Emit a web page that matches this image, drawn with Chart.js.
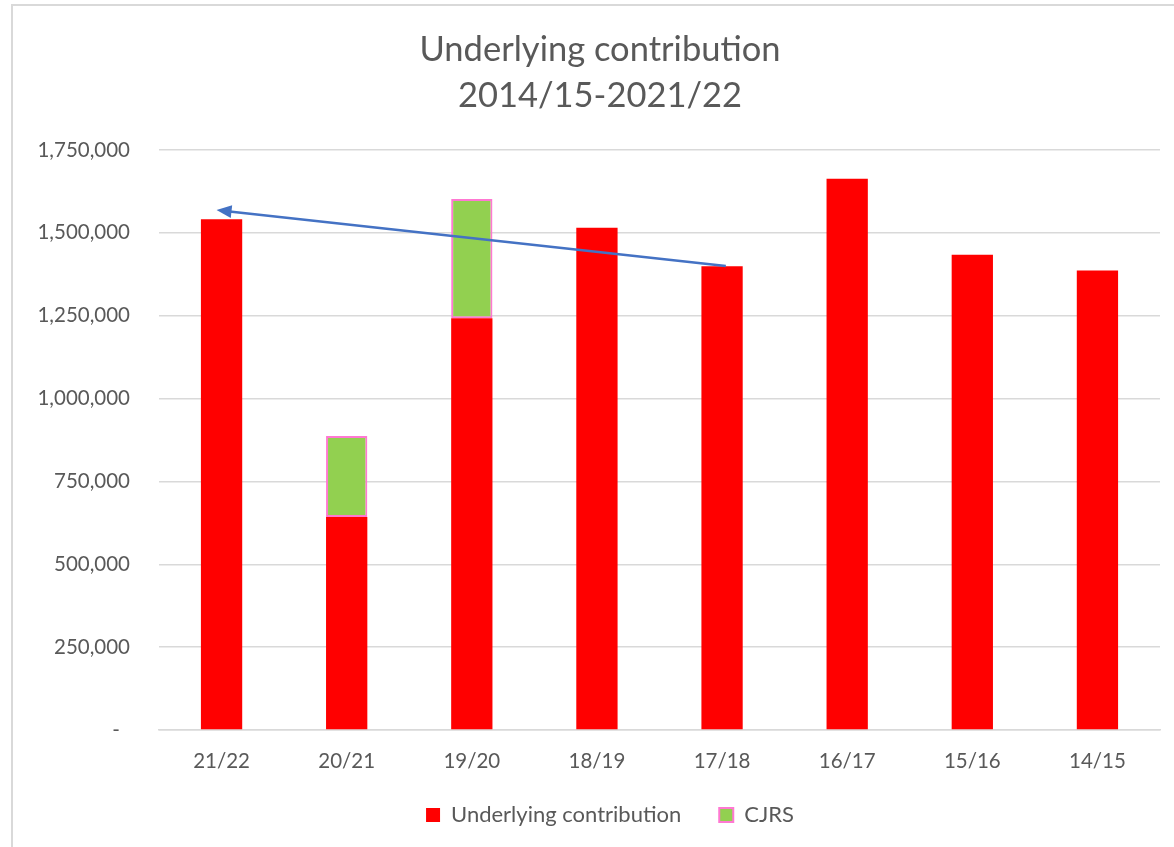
<!DOCTYPE html>
<html>
<head>
<meta charset="utf-8">
<script src="https://cdn.jsdelivr.net/npm/chart.js@4"></script>
<style>
  html, body { margin: 0; padding: 0; background: #fff; }
  #wrap { width: 1174px; height: 847px; position: relative; }
</style>
</head>
<body>
<div id="wrap"><canvas id="chart"></canvas></div>
<script>
// data
const categories = ['21/22', '20/21', '19/20', '18/19', '17/18', '16/17', '15/16', '14/15'];
const underlying = [1541000, 643000, 1242000, 1515000, 1399000, 1663000, 1434000, 1386000];
const cjrs = [null, 244000, 360000, null, null, null, null, null];
const yTicks = [0, 250000, 500000, 750000, 1000000, 1250000, 1500000, 1750000];
// trend arrow: [category index, value] from tail to tip
const arrowFrom = [4.03, 1400000];
const arrowTo = [-0.04, 1569000];

const textColor = '#595959';
const gridColor = '#d9d9d9';
const fontFamily = 'Lato, "Open Sans", sans-serif';

// light frame around the chart, like the spreadsheet export
const framePlugin = {
    id: 'frame',
    beforeDraw(chart) {
        const ctx = chart.ctx;
        ctx.save();
        ctx.strokeStyle = '#d9d9d9';
        ctx.lineWidth = 2;
        ctx.strokeRect(12, 5, chart.width + 20, chart.height + 20);
        ctx.restore();
    }
};

// title and legend sit a bit right of the canvas centre in the original
const nudgePlugin = {
    id: 'nudge',
    afterLayout(chart) {
        if (chart.titleBlock) {
            chart.titleBlock.left += 20;
            chart.titleBlock.right += 20;
        }
        if (chart.legend) {
            chart.legend.left += 30;
            chart.legend.right += 30;
            chart.legend.top -= 10;
            chart.legend.bottom -= 10;
        }
    }
};

// blue arrow drawn through the scales
const arrowPlugin = {
    id: 'trendArrow',
    afterDatasetsDraw(chart) {
        const { ctx, scales: { x, y } } = chart;
        const x1 = x.getPixelForValue(arrowFrom[0]);
        const y1 = y.getPixelForValue(arrowFrom[1]);
        const x2 = x.getPixelForValue(arrowTo[0]);
        const y2 = y.getPixelForValue(arrowTo[1]);
        const ang = Math.atan2(y2 - y1, x2 - x1);
        const headLen = 15, headW = 6.5;

        ctx.save();
        ctx.strokeStyle = '#4472c4';
        ctx.fillStyle = '#4472c4';
        ctx.lineWidth = 2.5;
        ctx.beginPath();
        ctx.moveTo(x1, y1);
        ctx.lineTo(x2 - Math.cos(ang) * (headLen - 2), y2 - Math.sin(ang) * (headLen - 2));
        ctx.stroke();

        const bx = x2 - Math.cos(ang) * headLen;
        const by = y2 - Math.sin(ang) * headLen;
        ctx.beginPath();
        ctx.moveTo(x2, y2);
        ctx.lineTo(bx + Math.sin(ang) * headW, by - Math.cos(ang) * headW);
        ctx.lineTo(bx - Math.sin(ang) * headW, by + Math.cos(ang) * headW);
        ctx.closePath();
        ctx.fill();
        ctx.restore();
    }
};

const ctx = document.getElementById('chart').getContext('2d');
new Chart(ctx, {
    type: 'bar',
    data: {
        labels: categories,
        datasets: [
            {
                label: 'Underlying contribution',
                data: underlying,
                backgroundColor: '#ff0000',
                borderWidth: 0,
                barPercentage: 0.33,
                categoryPercentage: 1
            },
            {
                label: 'CJRS',
                data: cjrs,
                backgroundColor: '#92d050',
                borderColor: '#ff78d2',
                borderWidth: 2,
                borderSkipped: false,
                barPercentage: 0.33,
                categoryPercentage: 1
            }
        ]
    },
    options: {
        responsive: true,
        maintainAspectRatio: false,
        animation: false,
        layout: { padding: { top: 27, right: 14, bottom: 1, left: 0 } },
        plugins: {
            title: {
                display: true,
                text: ['Underlying contribution', '2014/15-2021/22'],
                color: textColor,
                font: { family: fontFamily, size: 34.5, weight: 'normal', lineHeight: 1.333 },
                padding: { top: 0, bottom: 31 }
            },
            legend: {
                position: 'bottom',
                labels: {
                    color: textColor,
                    font: { family: fontFamily, size: 22 },
                    boxWidth: 14,
                    boxHeight: 14,
                    padding: 38
                }
            },
            tooltip: { enabled: false }
        },
        scales: {
            x: {
                stacked: true,
                afterFit(scale) { scale.height = 46; },
                grid: { display: false, drawTicks: false },
                border: { color: gridColor, width: 1.5 },
                ticks: {
                    color: textColor,
                    font: { family: fontFamily, size: 20.5 },
                    padding: 19
                }
            },
            y: {
                stacked: true,
                min: 0,
                max: 1750000,
                afterFit(scale) { scale.width = 159; },
                afterBuildTicks(scale) { scale.ticks = yTicks.map(v => ({ value: v })); },
                grid: { color: gridColor, lineWidth: 1.5, drawTicks: false },
                border: { display: false },
                ticks: {
                    color: textColor,
                    font: { family: fontFamily, size: 20.5 },
                    padding: 29,
                    callback: v => v === 0 ? '-\u2002' : v.toLocaleString('en-US')
                }
            }
        }
    },
    plugins: [framePlugin, nudgePlugin, arrowPlugin]
});
</script>
</body>
</html>
